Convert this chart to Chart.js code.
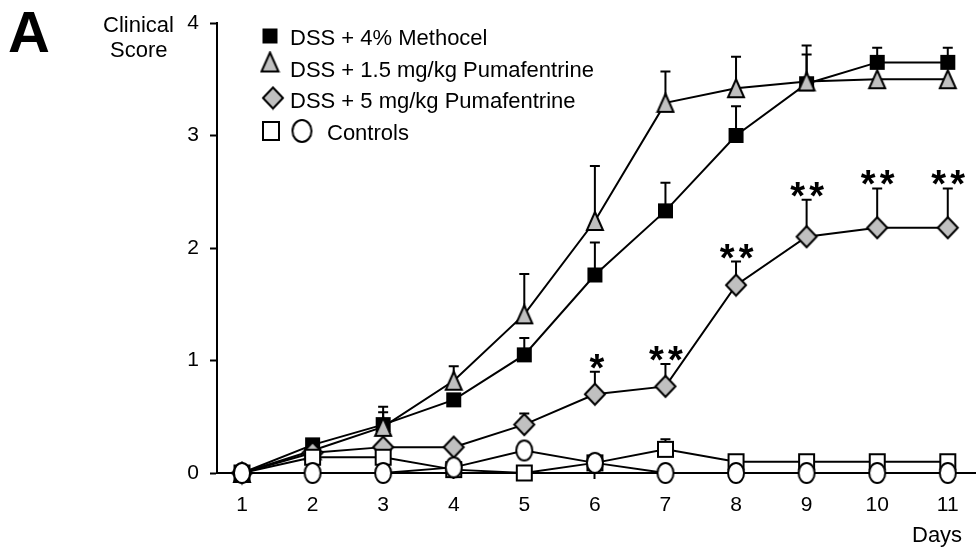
<!DOCTYPE html>
<html>
<head>
<meta charset="utf-8">
<script src="https://cdn.jsdelivr.net/npm/chart.js@4.4.1/dist/chart.umd.min.js"></script>
<style>
  html, body { margin: 0; padding: 0; background: #fff; }
</style>
</head>
<body>
<canvas id="clinicalScore" width="976" height="552"></canvas>
<script>
// values
const days = [1, 2, 3, 4, 5, 6, 7, 8, 9, 10, 11];

const methocel = [0, 0.25, 0.43, 0.65, 1.05, 1.76, 2.33, 3.0, 3.46, 3.65, 3.65];
const methocelErrTop = [null, 0.28, 0.54, 0.7, 1.2, 2.05, 2.58, 3.26, 3.72, 3.78, 3.78];

const puma15 = [0, 0.2, 0.41, 0.82, 1.41, 2.24, 3.29, 3.42, 3.48, 3.5, 3.5];
const puma15ErrTop = [null, 0.22, 0.59, 0.95, 1.77, 2.73, 3.57, 3.7, 3.8, null, null];

const puma5 = [0, 0.18, 0.23, 0.23, 0.43, 0.7, 0.77, 1.67, 2.1, 2.18, 2.18];
const puma5ErrTop = [null, null, null, 0.25, 0.53, 0.9, 0.97, 1.88, 2.43, 2.53, 2.53];
const puma5Stars = ["", "", "", "", "", "*", "**", "**", "**", "**", "**"];

const controlSquares = [0, 0.14, 0.14, 0.03, 0, 0.09, 0.21, 0.1, 0.1, 0.1, 0.1];
const controlSquaresErrTop = [null, null, null, null, null, null, 0.3, null, null, null, null];
const controlCircles = [0, 0, 0, 0.05, 0.2, 0.09, 0, 0, 0, 0, 0];

const legendLabels = ["DSS + 4% Methocel", "DSS + 1.5 mg/kg Pumafentrine", "DSS + 5 mg/kg Pumafentrine", "Controls"];
const yTicks = [0, 1, 2, 3, 4];

const FONT = "'Liberation Sans', Arial, sans-serif";
const GREY = "#c0c0c0";

// marker images (the circles in the figure are a bit taller than wide)
function marker(kind, w, h, fill) {
    const c = document.createElement("canvas");
    c.width = w + 4;
    c.height = h + 4;
    const g = c.getContext("2d");
    const cx = c.width / 2, cy = c.height / 2;
    g.beginPath();
    if (kind == "square") {
        g.rect(cx - w / 2, cy - h / 2, w, h);
    } else if (kind == "triangle") {
        g.moveTo(cx, cy - h / 2);
        g.lineTo(cx + w / 2, cy + h / 2);
        g.lineTo(cx - w / 2, cy + h / 2);
        g.closePath();
    } else if (kind == "diamond") {
        g.moveTo(cx, cy - h / 2);
        g.lineTo(cx + w / 2, cy);
        g.lineTo(cx, cy + h / 2);
        g.lineTo(cx - w / 2, cy);
        g.closePath();
    } else {
        g.ellipse(cx, cy, w / 2, h / 2, 0, 0, Math.PI * 2);
    }
    g.fillStyle = fill;
    g.fill();
    g.lineWidth = 2;
    g.strokeStyle = "#000";
    g.stroke();
    return c;
}

const blackSquare = marker("square", 13, 13, "#000");
const greyTriangle = marker("triangle", 16, 18, GREY);
const greyDiamond = marker("diamond", 20, 21, GREY);
const whiteSquare = marker("square", 15, 15, "#fff");
const whiteCircle = marker("circle", 16, 20, "#fff");
const legendTriangle = marker("triangle", 17, 19, GREY);
const legendSquare = marker("square", 16, 18, "#fff");
const legendCircle = marker("circle", 19, 22, "#fff");

function pts(values) {
    return days.map((d, i) => ({ x: d, y: values[i] }));
}

function series(label, values, style, order) {
    return {
        label: label,
        data: pts(values),
        borderColor: "#000",
        borderWidth: 2,
        pointStyle: style,
        pointRadius: 10,
        pointHoverRadius: 10,
        fill: false,
        tension: 0,
        clip: false,
        order: order
    };
}

const errorBars = [
    { values: methocel, top: methocelErrTop },
    { values: puma15, top: puma15ErrTop },
    { values: puma5, top: puma5ErrTop },
    { values: controlSquares, top: controlSquaresErrTop }
];

// error bars behind the markers, stars and free labels on top
const extras = {
    id: "extras",
    beforeDatasetsDraw(chart) {
        const ctx = chart.ctx;
        const xs = chart.scales.x, ys = chart.scales.y;
        ctx.save();
        ctx.strokeStyle = "#000";
        ctx.lineWidth = 2;
        errorBars.forEach(bar => {
            bar.top.forEach((t, i) => {
                if (t == null) return;
                const px = xs.getPixelForValue(days[i]);
                const py0 = ys.getPixelForValue(bar.values[i]);
                const py1 = ys.getPixelForValue(t);
                ctx.beginPath();
                ctx.moveTo(px, py0);
                ctx.lineTo(px, py1);
                ctx.moveTo(px - 5, py1);
                ctx.lineTo(px + 5, py1);
                ctx.stroke();
            });
        });
        ctx.restore();
    },
    afterDraw(chart) {
        const ctx = chart.ctx;
        const xs = chart.scales.x, ys = chart.scales.y;
        ctx.save();
        ctx.fillStyle = "#000";

        // significance stars
        ctx.font = "bold 38px " + FONT;
        ctx.textAlign = "center";
        ctx.textBaseline = "alphabetic";
        puma5Stars.forEach((s, i) => {
            if (!s) return;
            const px = xs.getPixelForValue(days[i]);
            const py = ys.getPixelForValue(puma5ErrTop[i]) + 9;
            if (s == "*") {
                ctx.fillText("*", px + 2, py);
            } else {
                ctx.fillText("*", px - 9, py);
                ctx.fillText("*", px + 10, py);
            }
        });

        // panel letter and axis titles
        ctx.textAlign = "left";
        ctx.font = "bold 58px " + FONT;
        ctx.fillText("A", 8, 52);
        ctx.font = "22px " + FONT;
        ctx.fillText("Clinical", 103, 32);
        ctx.fillText("Score", 110, 57);
        ctx.fillText("Days", 912, 542);

        // legend
        const rows = [
            [blackSquare, 270, 36],
            [legendTriangle, 270, 62],
            [greyDiamond, 273, 98],
            [legendSquare, 271, 131],
            [legendCircle, 302, 131]
        ];
        rows.forEach(r => {
            ctx.drawImage(r[0], r[1] - r[0].width / 2, r[2] - r[0].height / 2);
        });
        ctx.fillText(legendLabels[0], 290, 45);
        ctx.fillText(legendLabels[1], 290, 77);
        ctx.fillText(legendLabels[2], 290, 108);
        ctx.fillText(legendLabels[3], 327, 140);
        ctx.restore();
    }
};

const ctxScore = document.getElementById("clinicalScore");
const dataScore = {
    datasets: [
        series("Controls (circles)", controlCircles, whiteCircle, 0),
        series("Controls (squares)", controlSquares, whiteSquare, 1),
        series(legendLabels[2], puma5, greyDiamond, 2),
        series(legendLabels[1], puma15, greyTriangle, 3),
        series(legendLabels[0], methocel, blackSquare, 4)
    ]
};

const configScore = {
    type: "line",
    data: dataScore,
    plugins: [extras],
    options: {
        responsive: false,
        animation: false,
        devicePixelRatio: 1,
        layout: { autoPadding: false, padding: { top: 23, left: 0, right: 0, bottom: 0 } },
        plugins: {
            legend: { display: false },
            tooltip: { enabled: false }
        },
        scales: {
            x: {
                type: "linear",
                min: 0.646,
                max: 11.4,
                afterBuildTicks: scale => { scale.ticks = days.map(d => ({ value: d })); },
                afterFit: scale => {
                    scale.height = 79;
                    scale.paddingLeft = 0;
                    scale.paddingRight = 0;
                },
                border: { display: true, color: "#000", width: 2 },
                grid: { display: true, drawOnChartArea: false, drawTicks: true, tickLength: 6, tickWidth: 2, tickColor: "#000" },
                ticks: { color: "#000", padding: 14, font: { family: FONT, size: 21 }, maxRotation: 0, autoSkip: false }
            },
            y: {
                type: "linear",
                min: 0,
                max: 4,
                afterBuildTicks: scale => { scale.ticks = yTicks.map(v => ({ value: v })); },
                afterFit: scale => {
                    scale.width = 217;
                    scale.paddingTop = 0;
                    scale.paddingBottom = 0;
                },
                border: { display: true, color: "#000", width: 2 },
                grid: { display: true, drawOnChartArea: false, drawTicks: true, tickLength: 7, tickWidth: 2, tickColor: "#000" },
                ticks: { color: "#000", padding: 11, font: { family: FONT, size: 21 } }
            }
        }
    }
};

new Chart(ctxScore, configScore);
</script>
</body>
</html>
